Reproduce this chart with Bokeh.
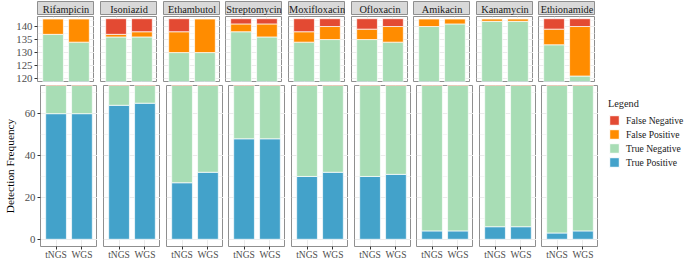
from bokeh.plotting import figure
from bokeh.models import ColumnDataSource, FactorRange, Range1d, FixedTicker, Legend, LegendItem
from bokeh.layouts import row, column
from bokeh.embed import file_html
from bokeh.resources import INLINE
from bokeh.core.properties import value

# ---------------- data ----------------
drugs = ["Rifampicin", "Isoniazid", "Ethambutol", "Streptomycin", "Moxifloxacin",
         "Ofloxacin", "Amikacin", "Kanamycin", "Ethionamide"]
methods = ["tNGS", "WGS"]

tp_tngs = [60, 64, 27, 48, 30, 30, 4, 6, 3]
tp_wgs = [60, 65, 32, 48, 32, 31, 4, 6, 4]
tn_tngs = [77, 72, 103, 90, 104, 105, 136, 136, 130]
tn_wgs = [74, 71, 98, 88, 103, 103, 137, 136, 117]
fp_tngs = [6, 1, 8, 3, 4, 4, 3, 1, 6]
fp_wgs = [9, 2, 13, 5, 5, 6, 2, 1, 19]
fn_tngs = [0, 6, 5, 2, 5, 4, 0, 0, 4]
fn_wgs = [0, 5, 0, 2, 3, 3, 0, 0, 3]

series = ["True Positive", "True Negative", "False Positive", "False Negative"]
colors = ["#43A2CA", "#A8DDB5", "#FF8C00", "#E34A33"]

top_ticks = [120, 125, 130, 135, 140]
top_minor = [122.5, 127.5, 132.5, 137.5, 142.5]
bottom_ticks = [0, 20, 40, 60]
bottom_minor = [10, 30, 50, 70]
top_limits = (118.9, 143.85)
bottom_limits = (-3.45, 73.45)

y_title = "Detection Frequency"
legend_title = "Legend"

# ---------------- style ----------------
FONT = "Liberation Serif"
BORDER = "#8F8F8F"
GRID = "#EBEBEB"
FRAME_W = 57
LEFT = 37
gaps = [6, 6, 5, 6, 6, 5, 6, 5]
stack_keys = ["tp", "tn", "fp", "fn"]


def source_for(i):
    return ColumnDataSource(dict(
        method=methods,
        tp=[tp_tngs[i], tp_wgs[i]],
        tn=[tn_tngs[i], tn_wgs[i]],
        fp=[fp_tngs[i], fp_wgs[i]],
        fn=[fn_tngs[i], fn_wgs[i]],
    ))


def left_border(i):
    return LEFT if i == 0 else gaps[i - 1]


def strip_fig(i):
    p = figure(frame_width=FRAME_W, frame_height=14, x_range=Range1d(0, 1), y_range=Range1d(0, 1),
               x_axis_location=None, y_axis_location=None, toolbar_location=None,
               output_backend="svg", min_border=0)
    p.min_border_left = left_border(i)
    p.min_border_top = 1
    p.grid.visible = False
    p.background_fill_color = "#D9D9D9"
    p.border_fill_color = "white"
    p.outline_line_color = BORDER
    p.outline_line_width = 1
    p.text(x=[0.5], y=[0.45], text=[drugs[i]], text_align="center", text_baseline="middle",
           text_font=value(FONT), text_font_size="10.3px", text_color="#1A1A1A")
    return p


def panel_fig(i, part):
    top = part == "top"
    lim = top_limits if top else bottom_limits
    ticks = top_ticks if top else bottom_ticks
    minor = top_minor if top else bottom_minor
    p = figure(frame_width=FRAME_W, frame_height=65 if top else 161,
               x_range=FactorRange(factors=methods, range_padding=0.1),
               y_range=Range1d(*lim),
               x_axis_location=None if top else "below",
               y_axis_location="left" if i == 0 else None,
               toolbar_location=None, output_backend="svg", min_border=0)
    p.min_border_left = left_border(i)
    if top:
        p.min_border_top = 1
        p.min_border_bottom = 4
    p.background_fill_color = "white"
    p.outline_line_color = BORDER
    p.outline_line_width = 1
    p.ygrid.ticker = FixedTicker(ticks=ticks, minor_ticks=minor)
    p.ygrid.grid_line_color = GRID
    p.ygrid.grid_line_width = 1
    p.ygrid.minor_grid_line_color = GRID
    p.ygrid.minor_grid_line_width = 0.5
    p.xgrid.grid_line_color = GRID
    p.xgrid.grid_line_width = 1

    p.vbar_stack(stack_keys, x="method", width=0.8, color=colors, line_color="white",
                 line_width=0.7, source=source_for(i))

    if i == 0:
        ax = p.yaxis[0]
        ax.ticker = FixedTicker(ticks=ticks)
        ax.axis_line_color = None
        ax.major_tick_line_color = "#333333"
        ax.major_tick_out = 3
        ax.major_tick_in = 0
        ax.minor_tick_line_color = None
        ax.major_label_standoff = 2
        ax.major_label_text_font = FONT
        ax.major_label_text_font_size = "10.8px"
        ax.major_label_text_color = "#4D4D4D"
        if not top:
            ax.axis_label = y_title
            ax.axis_label_text_font = FONT
            ax.axis_label_text_font_size = "11.3px"
            ax.axis_label_text_font_style = "normal"
            ax.axis_label_text_color = "black"
            ax.axis_label_standoff = 6
    if not top:
        ax = p.xaxis[0]
        ax.axis_line_color = None
        ax.major_tick_line_color = "#333333"
        ax.major_tick_out = 3
        ax.major_tick_in = 0
        ax.minor_tick_line_color = None
        ax.major_label_standoff = 0
        ax.major_label_text_font = FONT
        ax.major_label_text_font_size = "9.5px"
        ax.major_label_text_color = "#4D4D4D"
    return p


strips = [strip_fig(i) for i in range(len(drugs))]
tops = [panel_fig(i, "top") for i in range(len(drugs))]
bottoms = [panel_fig(i, "bottom") for i in range(len(drugs))]

# legend figure
lf = figure(width=87, height=260, x_range=FactorRange(factors=methods), y_range=Range1d(1000, 1001),
            x_axis_location=None, y_axis_location=None, toolbar_location=None,
            output_backend="svg", min_border=0)
lf.grid.visible = False
lf.outline_line_color = None
rs = lf.vbar_stack(stack_keys, x="method", width=0.8, color=colors, line_color="white",
                   source=source_for(0))
items = [LegendItem(label=series[k], renderers=[rs[k]]) for k in range(3, -1, -1)]
leg = Legend(items=items, location=(10, 92), title=legend_title,
             title_text_font=FONT, title_text_font_size="10.3px", title_text_font_style="normal",
             title_text_color="#1A1A1A", title_standoff=5,
             label_text_font=FONT, label_text_font_size="9.6px", label_text_color="#1A1A1A",
             glyph_width=12, glyph_height=12, label_height=12, spacing=2, label_standoff=6,
             padding=0, margin=0, border_line_color=None, background_fill_alpha=0)
lf.add_layout(leg)

grid_part = column(row(*strips), row(*tops), row(*bottoms))
layout = row(grid_part, lf)

open("out.html", "w").write(file_html(layout, INLINE))
